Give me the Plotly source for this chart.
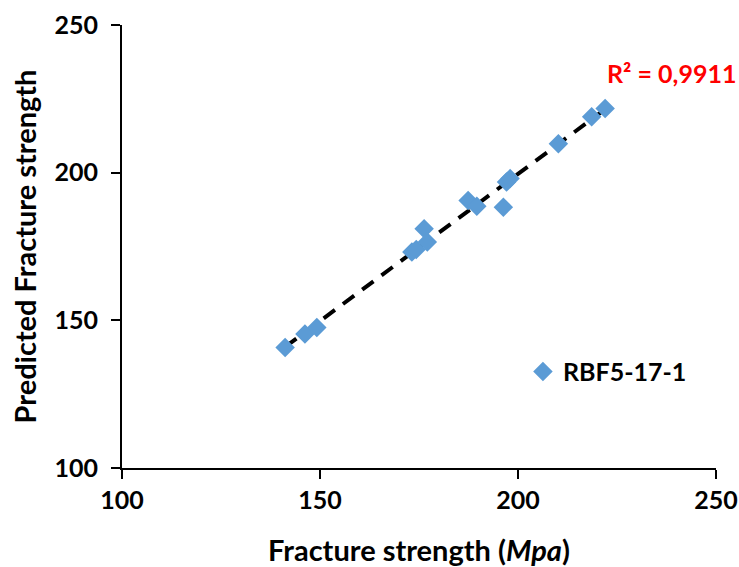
import numpy as np
import plotly.graph_objects as go

actual = [141.2, 146.2, 149.2, 173.2, 174.3, 176.3, 177.1, 187.4, 189.6, 196.3, 197.1, 198.0, 210.2, 218.6, 222.0]
predicted = [140.8, 145.4, 147.6, 173.1, 174.0, 181.0, 176.5, 190.6, 188.6, 188.3, 196.8, 198.0, 209.8, 218.9, 221.7]
series_name = "RBF5-17-1"
r2_label = "R² = 0,9911"
tick_vals = [100, 150, 200, 250]
tick_text = ["<b>%d</b>" % v for v in tick_vals]

slope, intercept = np.polyfit(actual, predicted, 1)
xfit = [min(actual), max(actual)]
yfit = [slope * v + intercept for v in xfit]

FONT = "Lato"

fig = go.Figure()
fig.add_trace(go.Scatter(x=xfit, y=yfit, mode="lines", showlegend=False,
                         line=dict(color="black", width=4, dash="14px,10px"), hoverinfo="skip"))
fig.add_trace(go.Scatter(x=actual, y=predicted, mode="markers", name="<b>" + series_name + "</b>",
                         marker=dict(symbol="diamond", size=15, color="#5B9BD5")))

fig.add_annotation(x=1.037, y=0.891, xref="paper", yref="paper", xanchor="right", yanchor="middle",
                   text="<b>" + r2_label + "</b>", showarrow=False,
                   font=dict(family=FONT, size=25, color="#FF0000"))

axis_common = dict(range=[100, 250], tickvals=tick_vals, ticktext=tick_text, showgrid=False, zeroline=False,
                   showline=True, linecolor="black", linewidth=2, ticks="outside",
                   ticklen=9, tickwidth=2, tickcolor="black", automargin=False,
                   tickfont=dict(family=FONT, size=25, color="black"))

fig.update_layout(
    width=739, height=567,
    margin=dict(l=122, r=23, t=25, b=99, autoexpand=False),
    paper_bgcolor="white", plot_bgcolor="white",
    font=dict(family=FONT, color="black"),
    xaxis=dict(**axis_common,
               title=dict(text="<b>Fracture strength (<i>Mpa</i>)</b>", font=dict(family=FONT, size=29),
                          standoff=33)),
    yaxis=dict(**axis_common, ticklabelstandoff=8,
               title=dict(text="<b>Predicted Fracture strength</b>", font=dict(family=FONT, size=29),
                          standoff=9)),
    legend=dict(x=0.675, y=0.217, xanchor="left", yanchor="middle",
                font=dict(family=FONT, size=25, color="black"), bgcolor="rgba(0,0,0,0)"),
    showlegend=True,
)

fig.write_html("out.html", config={"displayModeBar": False},
               post_script="document.body.style.margin='0';document.body.style.overflow='hidden';")
